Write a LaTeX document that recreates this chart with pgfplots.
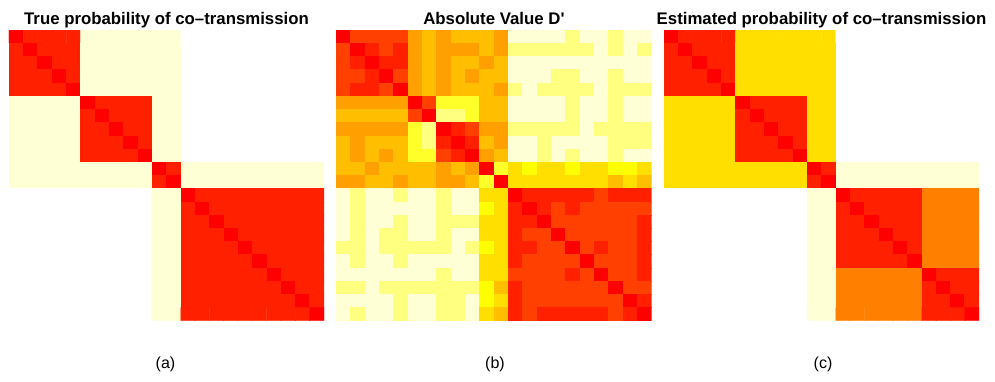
\documentclass[border=0pt]{standalone}
\usepackage{fontspec}
\setmainfont{Liberation Sans}
\newfontfamily\tf{Liberation Sans}
\usepackage{pgfplots}
\pgfplotsset{compat=1.18}
\pgfplotsset{hm/.style={scale only axis, hide axis, xmin=-0.5, xmax=21.5, ymin=-0.5, ymax=21.5,
  y dir=reverse, height=290.7pt, anchor=south west,
  colormap={heat}{rgb255=(255,0,0) rgb255=(255,32,0) rgb255=(255,64,0) rgb255=(255,96,0)
  rgb255=(255,128,0) rgb255=(255,159,0) rgb255=(255,191,0) rgb255=(255,223,0) rgb255=(255,255,0)
  rgb255=(255,255,42) rgb255=(255,255,128) rgb255=(255,255,213) rgb255=(255,255,255)},
  colormap access=direct},
  hmplot/.style={matrix plot*, mesh/cols=22, point meta=\thisrow{c}}}
\begin{document}
\begin{tikzpicture}
\useasboundingbox (0,0) rectangle (995pt,381pt);
% (a)
\begin{axis}[hm, at={(9pt,60.3pt)}, width=315pt]
\addplot[hmplot] table[row sep=\\, x expr={\coordindex-22*floor((\coordindex+0.5)/22)}, y expr={floor((\coordindex+0.5)/22)}] {c\\
0\\1\\1\\1\\1\\11\\11\\11\\11\\11\\11\\11\\12\\12\\12\\12\\12\\12\\12\\12\\12\\12\\
1\\0\\1\\1\\1\\11\\11\\11\\11\\11\\11\\11\\12\\12\\12\\12\\12\\12\\12\\12\\12\\12\\
1\\1\\0\\1\\1\\11\\11\\11\\11\\11\\11\\11\\12\\12\\12\\12\\12\\12\\12\\12\\12\\12\\
1\\1\\1\\0\\1\\11\\11\\11\\11\\11\\11\\11\\12\\12\\12\\12\\12\\12\\12\\12\\12\\12\\
1\\1\\1\\1\\0\\11\\11\\11\\11\\11\\11\\11\\12\\12\\12\\12\\12\\12\\12\\12\\12\\12\\
11\\11\\11\\11\\11\\0\\1\\1\\1\\1\\11\\11\\12\\12\\12\\12\\12\\12\\12\\12\\12\\12\\
11\\11\\11\\11\\11\\1\\0\\1\\1\\1\\11\\11\\12\\12\\12\\12\\12\\12\\12\\12\\12\\12\\
11\\11\\11\\11\\11\\1\\1\\0\\1\\1\\11\\11\\12\\12\\12\\12\\12\\12\\12\\12\\12\\12\\
11\\11\\11\\11\\11\\1\\1\\1\\0\\1\\11\\11\\12\\12\\12\\12\\12\\12\\12\\12\\12\\12\\
11\\11\\11\\11\\11\\1\\1\\1\\1\\0\\11\\11\\12\\12\\12\\12\\12\\12\\12\\12\\12\\12\\
11\\11\\11\\11\\11\\11\\11\\11\\11\\11\\0\\1\\11\\11\\11\\11\\11\\11\\11\\11\\11\\11\\
11\\11\\11\\11\\11\\11\\11\\11\\11\\11\\1\\0\\11\\11\\11\\11\\11\\11\\11\\11\\11\\11\\
12\\12\\12\\12\\12\\12\\12\\12\\12\\12\\11\\11\\0\\1\\1\\1\\1\\1\\1\\1\\1\\1\\
12\\12\\12\\12\\12\\12\\12\\12\\12\\12\\11\\11\\1\\0\\1\\1\\1\\1\\1\\1\\1\\1\\
12\\12\\12\\12\\12\\12\\12\\12\\12\\12\\11\\11\\1\\1\\0\\1\\1\\1\\1\\1\\1\\1\\
12\\12\\12\\12\\12\\12\\12\\12\\12\\12\\11\\11\\1\\1\\1\\0\\1\\1\\1\\1\\1\\1\\
12\\12\\12\\12\\12\\12\\12\\12\\12\\12\\11\\11\\1\\1\\1\\1\\0\\1\\1\\1\\1\\1\\
12\\12\\12\\12\\12\\12\\12\\12\\12\\12\\11\\11\\1\\1\\1\\1\\1\\0\\1\\1\\1\\1\\
12\\12\\12\\12\\12\\12\\12\\12\\12\\12\\11\\11\\1\\1\\1\\1\\1\\1\\0\\1\\1\\1\\
12\\12\\12\\12\\12\\12\\12\\12\\12\\12\\11\\11\\1\\1\\1\\1\\1\\1\\1\\0\\1\\1\\
12\\12\\12\\12\\12\\12\\12\\12\\12\\12\\11\\11\\1\\1\\1\\1\\1\\1\\1\\1\\0\\1\\
12\\12\\12\\12\\12\\12\\12\\12\\12\\12\\11\\11\\1\\1\\1\\1\\1\\1\\1\\1\\1\\0\\
};
\end{axis}
% (b)
\begin{axis}[hm, at={(336pt,60.3pt)}, width=315.7pt]
\addplot[hmplot] table[row sep=\\, x expr={\coordindex-22*floor((\coordindex+0.5)/22)}, y expr={floor((\coordindex+0.5)/22)}] {c\\
0\\2\\2\\2\\2\\5\\6\\5\\6\\6\\6\\5\\11\\11\\11\\11\\10\\11\\11\\10\\11\\11\\
2\\0\\1\\2\\1\\5\\6\\5\\5\\5\\6\\5\\10\\10\\10\\10\\10\\10\\11\\10\\11\\10\\
2\\1\\0\\1\\1\\5\\6\\5\\6\\6\\5\\6\\11\\11\\11\\11\\11\\11\\11\\11\\11\\11\\
2\\2\\1\\0\\2\\5\\6\\5\\6\\5\\6\\6\\11\\11\\11\\10\\10\\11\\11\\10\\11\\11\\
2\\1\\1\\2\\0\\5\\6\\5\\6\\6\\6\\5\\10\\11\\10\\10\\10\\10\\11\\10\\10\\10\\
5\\5\\5\\5\\5\\0\\2\\9\\9\\9\\6\\6\\11\\11\\11\\11\\10\\11\\11\\10\\11\\11\\
6\\6\\6\\6\\6\\2\\0\\10\\10\\9\\6\\6\\11\\11\\11\\11\\10\\11\\11\\10\\11\\11\\
5\\5\\5\\5\\5\\9\\10\\0\\1\\2\\5\\5\\10\\10\\10\\10\\10\\11\\10\\10\\10\\10\\
6\\5\\6\\6\\6\\9\\10\\1\\0\\1\\6\\5\\11\\11\\10\\11\\11\\11\\11\\10\\10\\10\\
6\\5\\6\\5\\6\\9\\9\\2\\1\\0\\5\\6\\11\\11\\10\\11\\10\\11\\11\\10\\11\\11\\
6\\6\\5\\6\\6\\6\\6\\5\\6\\5\\0\\9\\7\\8\\7\\7\\8\\7\\7\\8\\8\\7\\
5\\5\\6\\6\\5\\6\\6\\5\\5\\6\\9\\0\\7\\7\\7\\7\\7\\7\\7\\6\\7\\6\\
11\\10\\11\\11\\10\\11\\11\\10\\11\\11\\7\\7\\0\\1\\1\\1\\1\\1\\2\\1\\1\\1\\
11\\10\\11\\11\\11\\11\\11\\10\\11\\11\\8\\7\\1\\0\\1\\2\\1\\2\\2\\2\\2\\2\\
11\\10\\11\\11\\10\\11\\11\\10\\10\\10\\7\\7\\1\\1\\0\\2\\2\\2\\2\\2\\2\\1\\
11\\10\\11\\10\\10\\11\\11\\10\\11\\11\\7\\7\\1\\2\\2\\0\\2\\2\\2\\2\\2\\1\\
10\\10\\11\\10\\10\\10\\10\\10\\11\\10\\8\\7\\1\\1\\2\\2\\0\\2\\1\\2\\2\\1\\
11\\10\\11\\11\\10\\11\\11\\11\\11\\11\\7\\7\\1\\2\\2\\2\\2\\0\\2\\2\\2\\1\\
11\\11\\11\\11\\11\\11\\11\\10\\11\\11\\7\\7\\2\\2\\2\\2\\1\\2\\0\\2\\2\\1\\
10\\10\\11\\10\\10\\10\\10\\10\\10\\10\\8\\6\\1\\2\\2\\2\\2\\2\\2\\0\\2\\2\\
11\\11\\11\\11\\10\\11\\11\\10\\10\\11\\8\\7\\1\\2\\2\\2\\2\\2\\2\\2\\0\\1\\
11\\10\\11\\11\\10\\11\\11\\10\\10\\11\\7\\6\\1\\2\\1\\1\\1\\1\\1\\2\\1\\0\\
};
\end{axis}
% (c)
\begin{axis}[hm, at={(664pt,60.3pt)}, width=315pt]
\addplot[hmplot] table[row sep=\\, x expr={\coordindex-22*floor((\coordindex+0.5)/22)}, y expr={floor((\coordindex+0.5)/22)}] {c\\
0\\1\\1\\1\\1\\7\\7\\7\\7\\7\\7\\7\\12\\12\\12\\12\\12\\12\\12\\12\\12\\12\\
1\\0\\1\\1\\1\\7\\7\\7\\7\\7\\7\\7\\12\\12\\12\\12\\12\\12\\12\\12\\12\\12\\
1\\1\\0\\1\\1\\7\\7\\7\\7\\7\\7\\7\\12\\12\\12\\12\\12\\12\\12\\12\\12\\12\\
1\\1\\1\\0\\1\\7\\7\\7\\7\\7\\7\\7\\12\\12\\12\\12\\12\\12\\12\\12\\12\\12\\
1\\1\\1\\1\\0\\7\\7\\7\\7\\7\\7\\7\\12\\12\\12\\12\\12\\12\\12\\12\\12\\12\\
7\\7\\7\\7\\7\\0\\1\\1\\1\\1\\7\\7\\12\\12\\12\\12\\12\\12\\12\\12\\12\\12\\
7\\7\\7\\7\\7\\1\\0\\1\\1\\1\\7\\7\\12\\12\\12\\12\\12\\12\\12\\12\\12\\12\\
7\\7\\7\\7\\7\\1\\1\\0\\1\\1\\7\\7\\12\\12\\12\\12\\12\\12\\12\\12\\12\\12\\
7\\7\\7\\7\\7\\1\\1\\1\\0\\1\\7\\7\\12\\12\\12\\12\\12\\12\\12\\12\\12\\12\\
7\\7\\7\\7\\7\\1\\1\\1\\1\\0\\7\\7\\12\\12\\12\\12\\12\\12\\12\\12\\12\\12\\
7\\7\\7\\7\\7\\7\\7\\7\\7\\7\\0\\1\\11\\11\\11\\11\\11\\11\\11\\11\\11\\11\\
7\\7\\7\\7\\7\\7\\7\\7\\7\\7\\1\\0\\11\\11\\11\\11\\11\\11\\11\\11\\11\\11\\
12\\12\\12\\12\\12\\12\\12\\12\\12\\12\\11\\11\\0\\1\\1\\1\\1\\1\\4\\4\\4\\4\\
12\\12\\12\\12\\12\\12\\12\\12\\12\\12\\11\\11\\1\\0\\1\\1\\1\\1\\4\\4\\4\\4\\
12\\12\\12\\12\\12\\12\\12\\12\\12\\12\\11\\11\\1\\1\\0\\1\\1\\1\\4\\4\\4\\4\\
12\\12\\12\\12\\12\\12\\12\\12\\12\\12\\11\\11\\1\\1\\1\\0\\1\\1\\4\\4\\4\\4\\
12\\12\\12\\12\\12\\12\\12\\12\\12\\12\\11\\11\\1\\1\\1\\1\\0\\1\\4\\4\\4\\4\\
12\\12\\12\\12\\12\\12\\12\\12\\12\\12\\11\\11\\1\\1\\1\\1\\1\\0\\4\\4\\4\\4\\
12\\12\\12\\12\\12\\12\\12\\12\\12\\12\\11\\11\\4\\4\\4\\4\\4\\4\\0\\1\\1\\1\\
12\\12\\12\\12\\12\\12\\12\\12\\12\\12\\11\\11\\4\\4\\4\\4\\4\\4\\1\\0\\1\\1\\
12\\12\\12\\12\\12\\12\\12\\12\\12\\12\\11\\11\\4\\4\\4\\4\\4\\4\\1\\1\\0\\1\\
12\\12\\12\\12\\12\\12\\12\\12\\12\\12\\11\\11\\4\\4\\4\\4\\4\\4\\1\\1\\1\\0\\
};
\end{axis}
\node[anchor=base, font=\fontsize{16.8}{20}\selectfont\tf\bfseries] at (166.5pt,356.8pt) {True probability of co–transmission};
\node[anchor=base, font=\fontsize{16.8}{20}\selectfont\tf\bfseries] at (493.9pt,356.8pt) {Absolute Value D'};
\begin{scope}
\clip (640pt,330pt) rectangle (985.5pt,381pt);
\node[anchor=base, font=\fontsize{16.8}{20}\selectfont\tf\bfseries] at (821.5pt,356.8pt) {Estimated probability of co–transmission};
\end{scope}
\node[anchor=base, font=\fontsize{16}{19}\selectfont] at (165.5pt,12.5pt) {(a)};
\node[anchor=base, font=\fontsize{16}{19}\selectfont] at (495pt,12.5pt) {(b)};
\node[anchor=base, font=\fontsize{16}{19}\selectfont] at (823pt,12.5pt) {(c)};
\end{tikzpicture}
\end{document}
